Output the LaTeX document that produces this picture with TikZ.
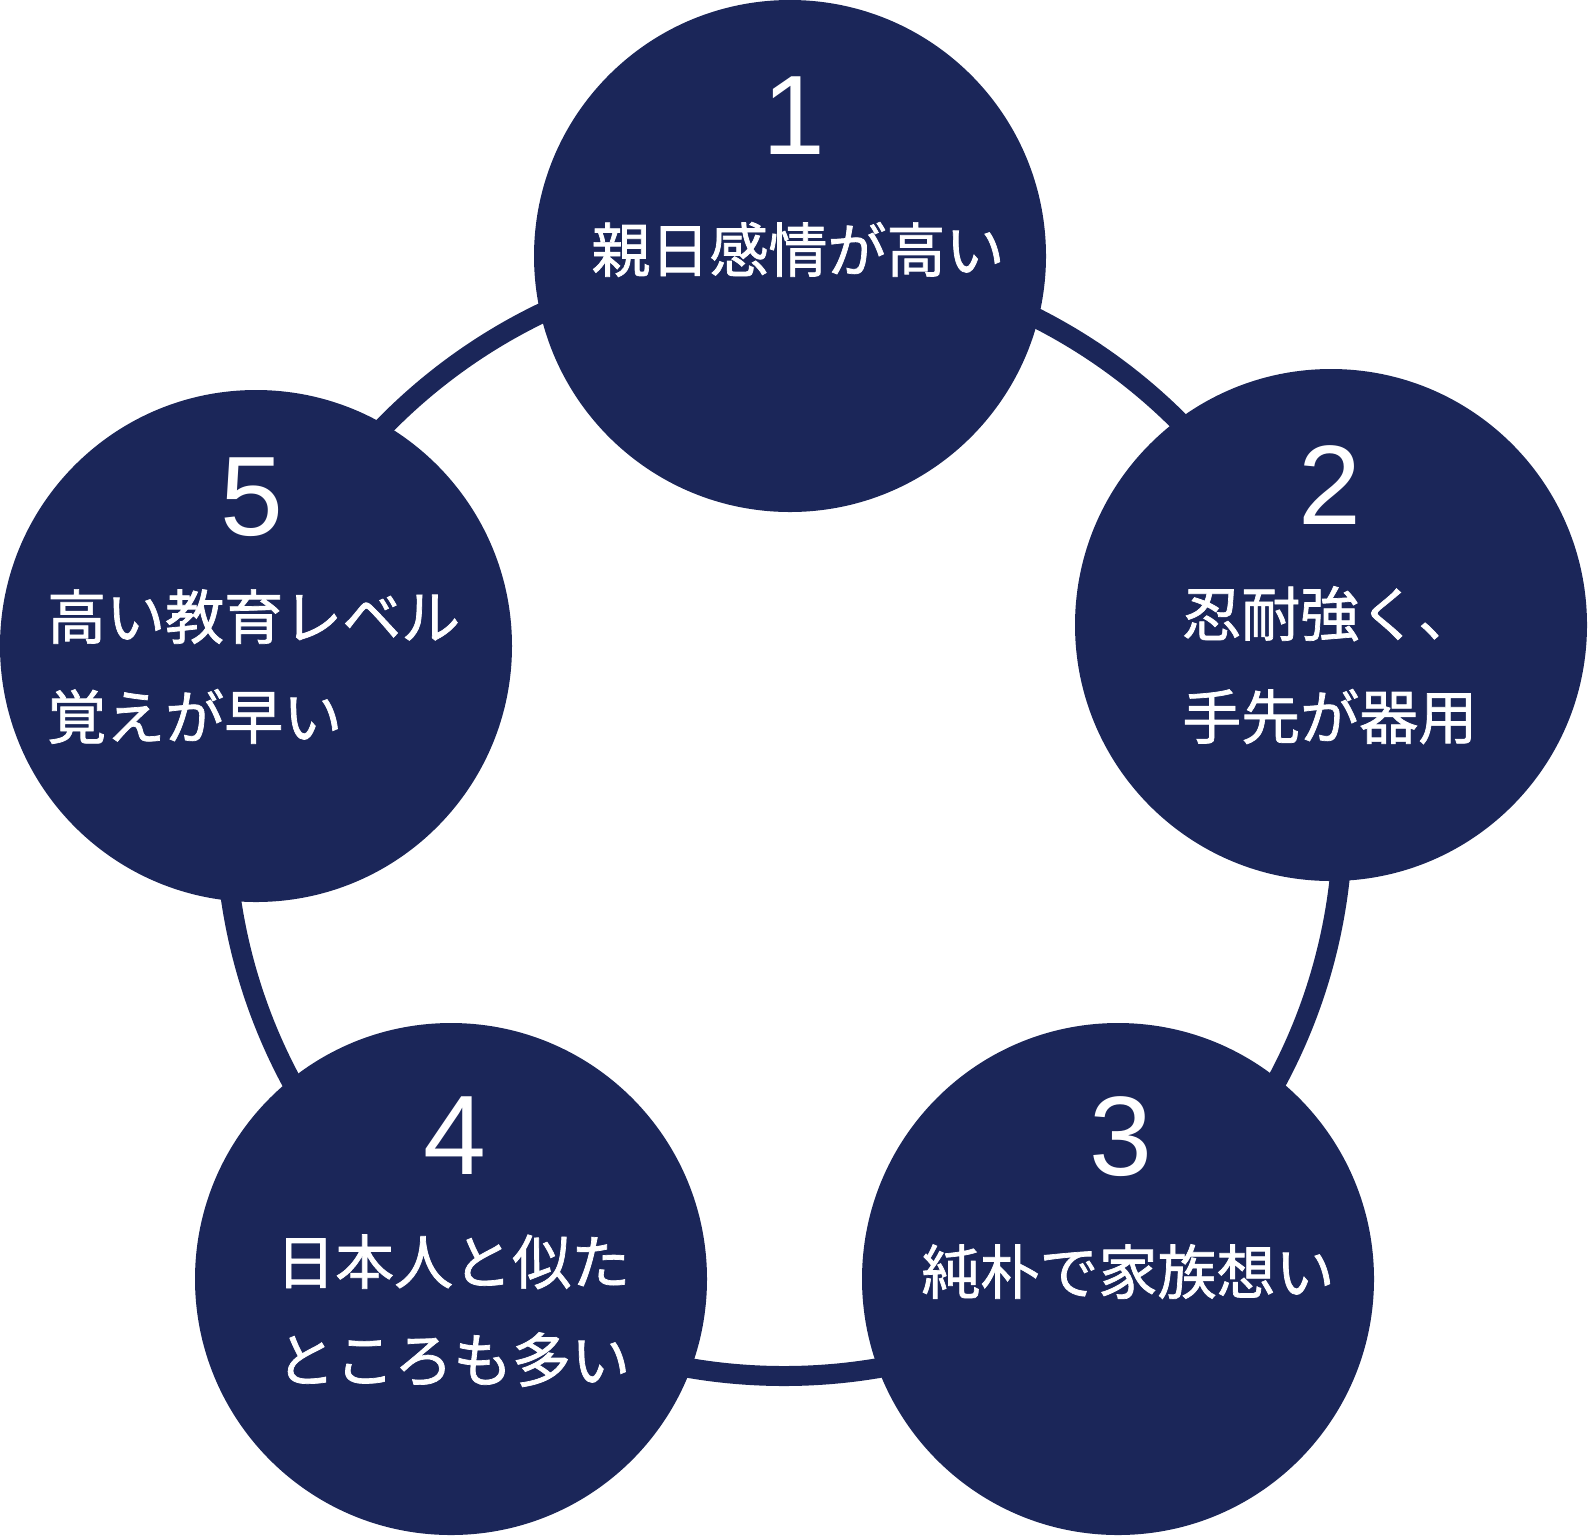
\documentclass[tikz,border=0pt]{standalone}
\usepackage{fontspec}
\setmainfont{Noto Sans CJK JP}[FakeBold=1.2]
\newfontfamily\numfont{Liberation Sans}
\definecolor{navy}{RGB}{27,38,89}
\tikzset{
  bubble/.style={circle, fill=navy, draw=none, minimum size=512pt, inner sep=0pt},
  num/.style={text=white, anchor=base, inner sep=0pt, font=\numfont\fontsize{113}{120}\selectfont},
  lbl/.style={text=white, anchor=base, inner sep=0pt, font=\fontsize{59}{70}\selectfont},
  lblw/.style={lbl, anchor=base west},
  ring/.style={draw=navy, line width=20pt}
}
\begin{document}
\begin{tikzpicture}[x=1pt,y=-1pt]
\useasboundingbox (0,0) rectangle (1589,1535);
\coordinate (ctr) at (784,817);
\draw[ring] (ctr) circle[radius=559pt];
\node[bubble] (c1) at (790,256) {};
\node[bubble] (c2) at (1331,625) {};
\node[bubble] (c3) at (1118,1279) {};
\node[bubble] (c4) at (451,1279) {};
\node[bubble] (c5) at (256,646) {};
% circle 1
\node[num] (n1) at (794,154) {1};
\node[lbl] (t1) at (798,272) {親日感情が高い};
% circle 2
\node[num] (n2) at (1330,524) {2};
\node[lblw] (t2a) at (1182,636) {忍耐強く、};
\node[lblw] (t2b) at (1182,739) {手先が器用};
% circle 3
\node[num] (n3) at (1121,1175) {3};
\node[lbl] (t3) at (1128,1294) {純朴で家族想い};
% circle 4
\node[num] (n4) at (455,1174) {4};
\node[lblw] (t4a) at (276,1284) {日本人と似た};
\node[lblw] (t4b) at (276,1382) {ところも多い};
% circle 5
\node[num] (n5) at (252,535) {5};
\node[lblw] (t5a) at (47,639) {高い教育レベル};
\node[lblw] (t5b) at (47,739) {覚えが早い};
\end{tikzpicture}
\end{document}
